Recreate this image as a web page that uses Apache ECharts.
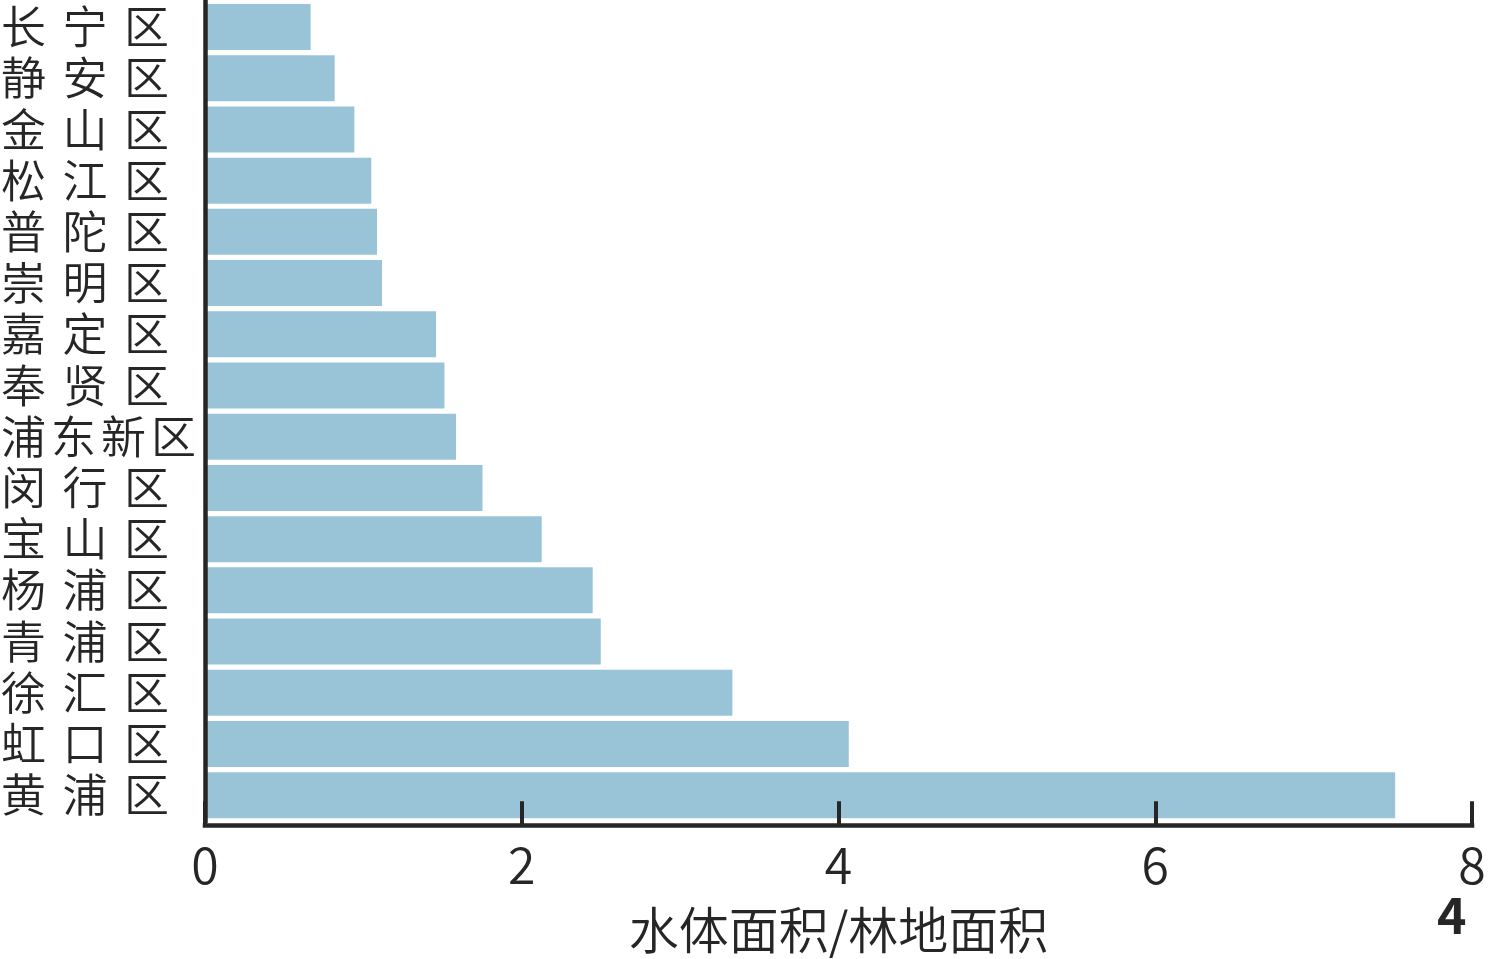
<!DOCTYPE html>
<html>
<head>
<meta charset="utf-8">
<script src="https://cdn.jsdelivr.net/npm/echarts@6/dist/echarts.min.js"></script>
<style>
html,body{margin:0;padding:0;background:#fff;}
#chart{width:1488px;height:959px;}
</style>
</head>
<body>
<div id="chart"></div>
<script>
// categories, top to bottom as shown
const districts = ['长宁区','静安区','金山区','松江区','普陀区','崇明区','嘉定区','奉贤区','浦东新区','闵行区','宝山区','杨浦区','青浦区','徐汇区','虹口区','黄浦区'];
const ratios = [0.667, 0.819, 0.943, 1.050, 1.086, 1.118, 1.459, 1.512, 1.585, 1.752, 2.126, 2.448, 2.499, 3.330, 4.065, 7.515];
const xTicks = [0, 2, 4, 6, 8];
const xAxisTitle = '水体面积/林地面积';
const panelLabel = '4';

const FONT = 'Noto Sans CJK SC';
const TXT = '#262626';
const W = 350;

const chart = echarts.init(document.getElementById('chart'));
chart.setOption({
  animation: false,
  backgroundColor: '#ffffff',
  grid: { left: 205, top: 1.4, width: 1267, height: 819.4, containLabel: false, outerBoundsMode: 'none' },
  xAxis: {
    type: 'value',
    z: 5,
    min: xTicks[0], max: xTicks[xTicks.length - 1], interval: 2,
    offset: 4.5,
    name: xAxisTitle,
    nameLocation: 'middle',
    nameGap: 80,
    nameTextStyle: { fontFamily: FONT, fontSize: 50, color: TXT, fontWeight: W },
    axisLine: { show: true, lineStyle: { color: TXT, width: 4.5, cap: 'square' } },
    axisTick: { show: true, inside: true, length: 24, lineStyle: { color: TXT, width: 4 } },
    axisLabel: { fontFamily: FONT, fontSize: 50, color: TXT, margin: 15, fontWeight: W },
    splitLine: { show: false }
  },
  yAxis: {
    type: 'category',
    z: 5,
    inverse: true,
    data: districts,
    axisLine: { show: true, lineStyle: { color: TXT, width: 4.5, cap: 'square' } },
    axisTick: { show: false },
    splitLine: { show: false },
    axisLabel: {
      align: 'left',
      margin: 204,
      formatter: function (v) {
        const chars = v.split('');
        const key = chars.length === 3 ? 'a' : 'b';
        return chars.map(c => '{' + key + '|' + c + '}').join('');
      },
      rich: {
        a: { fontFamily: FONT, fontSize: 45, color: TXT, width: 61.5, align: 'left', fontWeight: W },
        b: { fontFamily: FONT, fontSize: 45, color: TXT, width: 50, align: 'left', fontWeight: W }
      }
    }
  },
  series: [{
    type: 'bar',
    data: ratios,
    barCategoryGap: '10.2%',
    itemStyle: { color: '#99c4d7' },
    silent: true
  }],
  graphic: [{
    type: 'text',
    left: 1437,
    top: 890,
    style: { text: panelLabel, fontFamily: FONT, fontSize: 50, fontWeight: 'bold', fill: TXT }
  }]
});
</script>
</body>
</html>
